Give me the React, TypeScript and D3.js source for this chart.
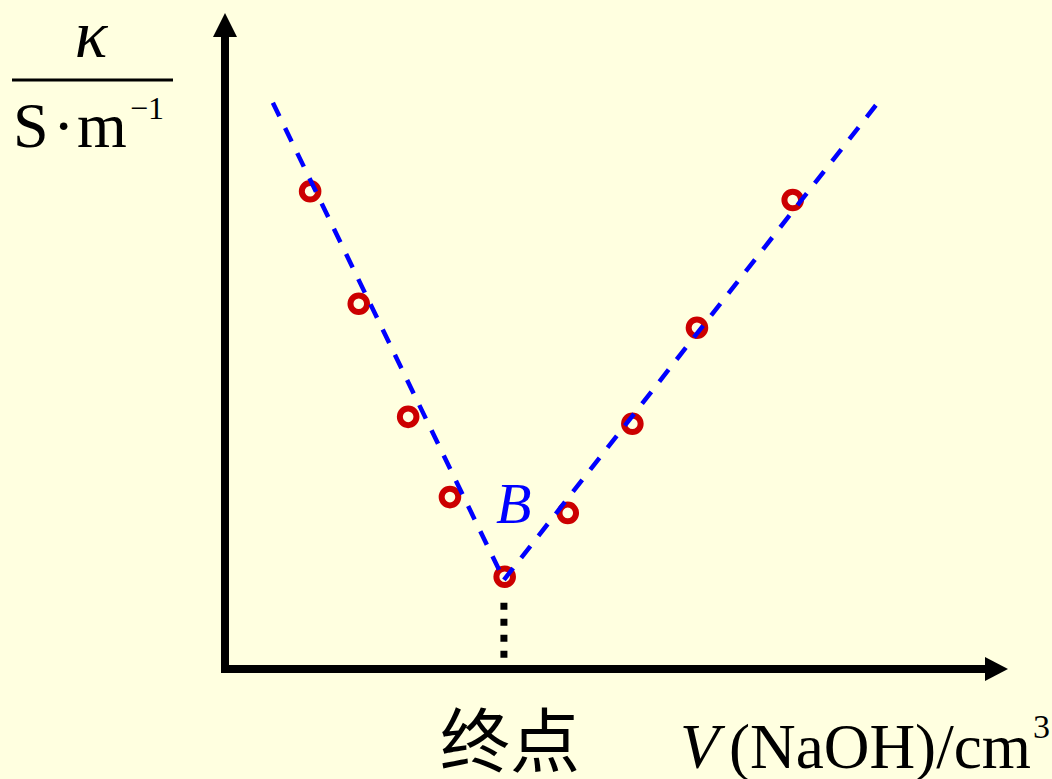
import React from "react";
import * as d3 from "d3";

// ---- data (abstract units) ----
const measuredV = [1.12, 1.76, 2.41, 2.96, 3.68, 4.51, 5.36, 6.21, 7.47];
const measuredKappa = [7.56, 5.78, 3.99, 2.72, 1.46, 2.47, 3.88, 5.4, 7.42];
const leftLineV = [0.63, 3.67];
const leftLineKappa = [8.96, 1.41];
const rightLineV = [3.67, 8.59];
const rightLineKappa = [1.41, 8.96];
const endpointV = 3.67;
const endpointKappaRange = [1.05, 0.15];
const endpointLabel = "终点";
const pointLabel = "B";

const W = 1052;
const H = 779;
const BG = "#FFFFE0";

export default function App() {
  const x = d3.scaleLinear().domain([0, 10]).range([225, 985]);
  const y = d3.scaleLinear().domain([0, 10]).range([669, 37]);
  const line = d3
    .line<[number, number]>()
    .x((d) => x(d[0]))
    .y((d) => y(d[1]));
  const leftPts = leftLineV.map((v, i) => [v, leftLineKappa[i]] as [number, number]);
  const rightPts = rightLineV.map((v, i) => [v, rightLineKappa[i]] as [number, number]);
  const serif = "'Liberation Serif', 'Times New Roman', serif";
  const x0 = x(0);
  const y0 = y(0);

  return (
    <svg
      width={W}
      height={H}
      style={{ position: "absolute", left: 0, top: 0 }}
      xmlns="http://www.w3.org/2000/svg"
    >
      <rect x={0} y={0} width={W} height={H} fill={BG} />

      {/* axes */}
      <line x1={x0} y1={y(10)} x2={x0} y2={y0 + 4} stroke="#000" strokeWidth={8} />
      <polygon points={`${x0 - 12},${y(10)} ${x0 + 12},${y(10)} ${x0},${y(10) - 24}`} fill="#000" />
      <line x1={x0 - 4} y1={y0} x2={x(10)} y2={y0} stroke="#000" strokeWidth={8} />
      <polygon points={`${x(10)},${y0 - 12} ${x(10)},${y0 + 12} ${x(10) + 23},${y0}`} fill="#000" />

      {/* endpoint dotted marker */}
      <line
        x1={x(endpointV)}
        y1={y(endpointKappaRange[0])}
        x2={x(endpointV)}
        y2={y(endpointKappaRange[1])}
        stroke="#000"
        strokeWidth={7}
        strokeDasharray="7 9"
      />

      {/* data points */}
      {measuredV.map((v, i) => (
        <circle
          key={i}
          cx={x(v)}
          cy={y(measuredKappa[i])}
          r={8.3}
          fill="none"
          stroke="#CC0000"
          strokeWidth={6}
        />
      ))}

      {/* fitted dashed lines */}
      <path d={line(leftPts) || ""} fill="none" stroke="#0000FF" strokeWidth={4.5} strokeDasharray="15 13" />
      <path d={line(rightPts) || ""} fill="none" stroke="#0000FF" strokeWidth={4.5} strokeDasharray="15 13" />

      {/* B label */}
      <text x={496} y={523} fontFamily={serif} fontStyle="italic" fontSize={58} fill="#0000FF">
        {pointLabel}
      </text>

      {/* y-axis label: kappa / S·m^-1 */}
      <text x={91} y={57} fontFamily={serif} fontStyle="italic" fontSize={68} textAnchor="middle" fill="#000">
        κ
      </text>
      <line x1={12} y1={80} x2={173} y2={80} stroke="#000" strokeWidth={3} />
      <text y={147} fontFamily={serif} fontSize={64} fill="#000">
        <tspan x={13}>S</tspan>
        <tspan x={53}>·</tspan>
        <tspan x={77}>m</tspan>
      </text>
      <text x={130} y={119} fontFamily={serif} fontSize={32} fill="#000">
        −1
      </text>

      {/* x-axis labels */}
      <text x={440} y={767} fontFamily="'Noto Sans CJK SC', sans-serif" fontSize={70} fill="#000">
        {endpointLabel}
      </text>
      <text y={768} fontFamily={serif} fontSize={64} fill="#000">
        <tspan x={680} fontStyle="italic">V</tspan>
        <tspan x={729} textLength={302} lengthAdjust="spacingAndGlyphs">(NaOH)/cm</tspan>
      </text>
      <text x={1033} y={738} fontFamily={serif} fontSize={34} fill="#000">
        3
      </text>
    </svg>
  );
}
